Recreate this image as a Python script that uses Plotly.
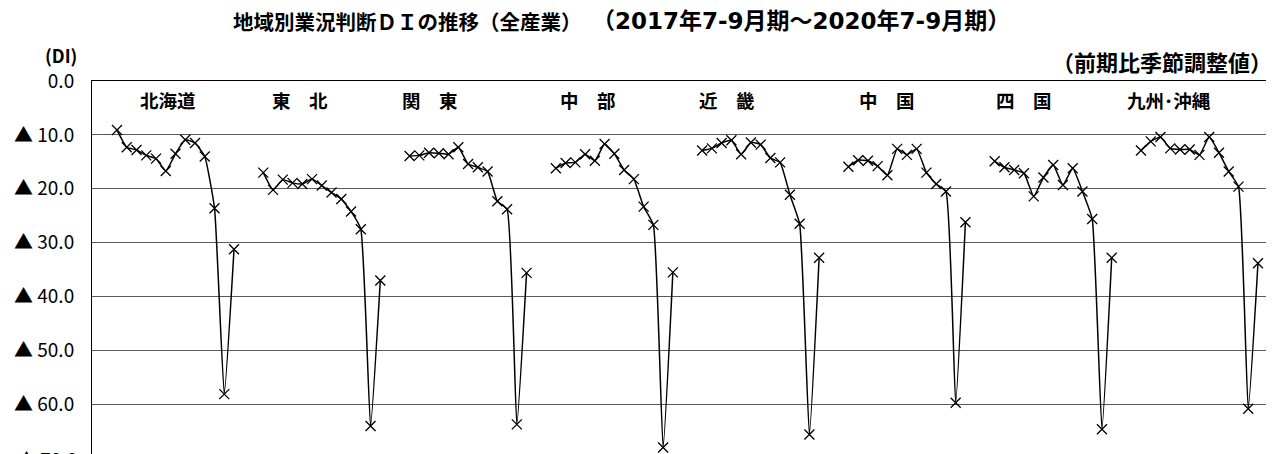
import plotly.graph_objects as go

regions = ["北海道", "東　北", "関　東", "中　部", "近　畿", "中　国", "四　国", "九州･沖縄"]
quarters = ["2017/7-9", "10-12", "2018/1-3", "4-6", "7-9", "10-12", "2019/1-3", "4-6", "7-9", "10-12",
            "2020/1-3", "4-6", "7-9"]

hokkaido = [-9.1, -12.3, -12.8, -13.8, -14.4, -16.7, -13.5, -10.9, -11.5, -14.0, -23.6, -58.1, -31.2]
tohoku = [-17.0, -20.2, -18.3, -18.9, -19.1, -18.2, -19.4, -20.7, -21.9, -24.2, -27.5, -64.0, -37.0]
kanto = [-13.9, -13.8, -13.3, -13.4, -13.6, -12.3, -15.4, -16.0, -16.8, -22.3, -23.8, -63.7, -35.6]
chubu = [-16.2, -15.2, -15.1, -13.6, -14.8, -11.7, -13.5, -16.5, -18.2, -23.3, -26.7, -68.0, -35.5]
kinki = [-12.9, -12.5, -11.5, -11.0, -13.6, -11.4, -11.8, -14.3, -15.1, -21.1, -26.5, -65.6, -32.8]
chugoku = [-15.9, -14.7, -14.8, -15.8, -17.5, -12.6, -13.7, -12.6, -17.0, -19.1, -20.5, -59.7, -26.2]
shikoku = [-14.9, -16.0, -16.5, -17.1, -21.4, -17.9, -15.6, -19.3, -16.2, -20.5, -25.6, -64.6, -32.8]
kyushu = [-12.9, -11.2, -10.4, -12.5, -12.7, -12.7, -13.7, -10.4, -13.3, -16.8, -19.6, -60.8, -33.8]

series = [hokkaido, tohoku, kanto, chubu, kinki, chugoku, shikoku, kyushu]

tick_vals = [0, -10, -20, -30, -40, -50, -60]
tick_text = ["0.0", "▲ 10.0", "▲ 20.0", "▲ 30.0", "▲ 40.0", "▲ 50.0", "▲ 60.0"]

title_main = "地域別業況判断ＤＩの推移（全産業）"
title_period = "（2017年7-9月期～2020年7-9月期）"
unit_left = "(DI)"
unit_right = "（前期比季節調整値）"

# ---- layout helpers (screen pixels; page body has an 8px margin) ----
OFF = 8
GAP = 2                      # empty slots between regions
step = len(quarters) + GAP
label_offset = [5.2, 3.8, 2.1, 3.3, 2.6, 4.0, 3.0, 2.9]

SCR_W, SCR_H = 1274, 454
W, H = SCR_W - OFF, SCR_H - OFF
PL, PT = 92, 81               # screen position of plot left / top
ML, MT = PL - OFF, PT - OFF
px_per_slot = 9.752
px_per_unit = 5.39
first_px = 117                # screen x of first point


def px_x(p):
    return (p - PL) / (SCR_W - PL)


def px_y(p):
    return (SCR_H - p) / (SCR_H - PT)


fig = go.Figure()
for i, vals in enumerate(series):
    xs = [i * step + k for k in range(len(vals))]
    fig.add_trace(go.Scatter(
        x=xs, y=vals, mode="lines+markers", name=regions[i],
        customdata=quarters,
        line=dict(color="black", width=1.5, shape="spline", smoothing=0.4),
        marker=dict(symbol="x-thin", size=10, line=dict(color="black", width=1.3)),
        showlegend=False, cliponaxis=False,
    ))

x_min = -(first_px - PL) / px_per_slot
x_max = (SCR_W - first_px) / px_per_slot
y_min = -(SCR_H - PT) / px_per_unit

for i, name in enumerate(regions):
    fig.add_annotation(x=i * step + label_offset[i], y=px_y(100), xref="x", yref="paper",
                       xanchor="center", yanchor="middle",
                       text=name, showarrow=False,
                       font=dict(family="Noto Sans CJK JP", size=18.5, color="black", weight="bold"))

fig.add_annotation(x=px_x(231), y=px_y(21), xref="paper", yref="paper", xanchor="left", yanchor="middle",
                   text=title_main, showarrow=False,
                   font=dict(family="Noto Sans CJK JP", size=20.5, color="black", weight="bold"))
fig.add_annotation(x=px_x(1012), y=px_y(21), xref="paper", yref="paper", xanchor="right", yanchor="middle",
                   text=title_period, showarrow=False,
                   font=dict(family="DejaVu Sans, Noto Sans CJK JP", size=23, color="black", weight="bold"))
fig.add_annotation(x=px_x(61), y=px_y(55), xref="paper", yref="paper", xanchor="center", yanchor="middle",
                   text=unit_left, showarrow=False,
                   font=dict(family="Liberation Sans Narrow, Noto Sans CJK JP", size=18, color="black", weight="bold"))
fig.add_annotation(x=px_x(1274), y=px_y(61), xref="paper", yref="paper", xanchor="right", yanchor="middle",
                   text=unit_right, showarrow=False,
                   font=dict(family="Noto Sans CJK JP", size=22, color="black", weight="bold"))
fig.add_annotation(x=0, y=px_y(458), xref="paper", yref="paper", xanchor="right", yanchor="middle",
                   xshift=-13, text="▲ 70.0", showarrow=False,
                   font=dict(family="Liberation Sans Narrow, Noto Sans CJK JP", size=19, color="black"))

fig.update_layout(
    width=W, height=H,
    margin=dict(l=ML, r=0, t=MT, b=0, autoexpand=False),
    paper_bgcolor="white", plot_bgcolor="white",
    xaxis=dict(range=[x_min, x_max], side="top", showline=True, linecolor="black", linewidth=1,
               showgrid=False, zeroline=False, showticklabels=False, ticks="", automargin=False),
    yaxis=dict(range=[y_min, 0], tickvals=tick_vals, ticktext=tick_text,
               showline=True, linecolor="black", linewidth=1, mirror=False,
               showgrid=True, gridcolor="#5a5a5a", gridwidth=1, zeroline=False,
               ticks="", ticklabelstandoff=13, automargin=False,
               tickfont=dict(family="Liberation Sans Narrow, Noto Sans CJK JP", size=19, color="black")),
)

fig.write_html("out.html")
